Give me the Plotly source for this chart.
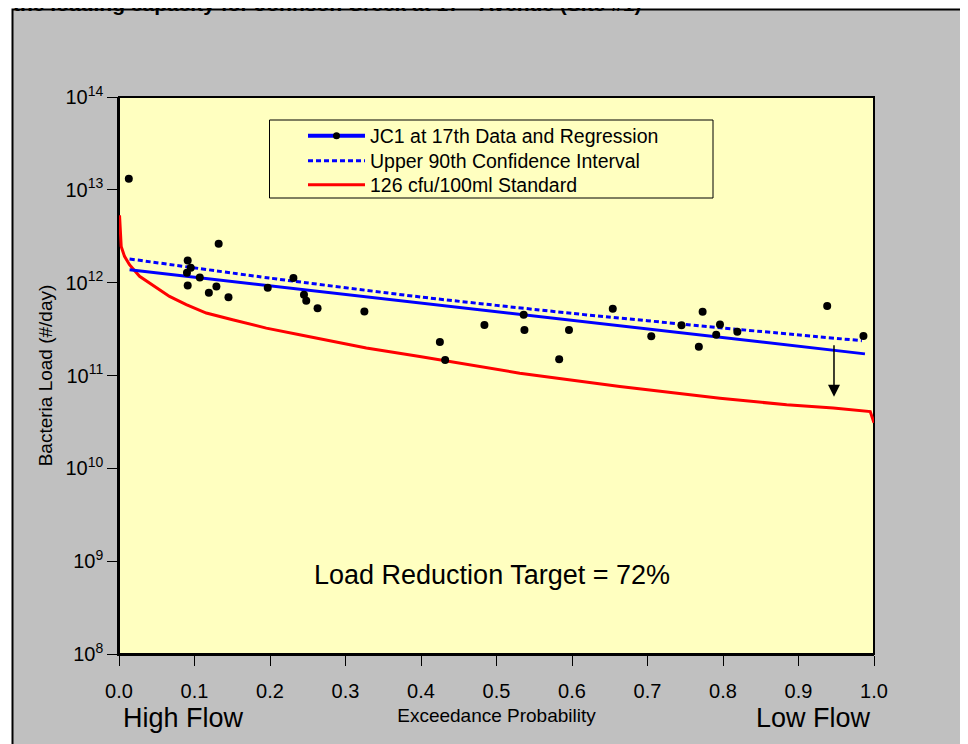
import math
import plotly.graph_objects as go

# ---------------- data ----------------
obs_x = [0.013, 0.091, 0.095, 0.090, 0.091, 0.107, 0.119, 0.129, 0.132, 0.145,
         0.197, 0.231, 0.245, 0.248, 0.263, 0.325, 0.425, 0.432, 0.484, 0.536,
         0.537, 0.583, 0.596, 0.654, 0.705, 0.745, 0.768, 0.773, 0.791, 0.796,
         0.819, 0.938, 0.986]
obs_y = [1.32e13, 1.73e12, 1.45e12, 1.28e12, 9.3e11, 1.14e12, 7.8e11, 9.1e11, 2.63e12, 6.95e11,
         8.8e11, 1.12e12, 7.4e11, 6.4e11, 5.3e11, 4.9e11, 2.3e11, 1.47e11, 3.5e11, 4.5e11,
         3.1e11, 1.5e11, 3.1e11, 5.25e11, 2.64e11, 3.47e11, 2.04e11, 4.86e11, 2.75e11, 3.55e11,
         2.96e11, 5.6e11, 2.66e11]

reg_x = [0.014, 0.988]
reg_y = [1.38e12, 1.71e11]

ci_x = [0.014, 0.2, 0.4, 0.6, 0.8, 0.984]
ci_y = [1.80e12, 1.12e12, 7.0e11, 4.67e11, 3.25e11, 2.37e11]

std_x = [0.0007, 0.0029, 0.0073, 0.0139, 0.0272, 0.0444, 0.0669, 0.0891, 0.1156, 0.1504,
         0.1951, 0.2392, 0.2830, 0.3276, 0.3983, 0.5308, 0.6634, 0.7959, 0.8843, 0.9461,
         0.9950, 1.0]
std_y = [5.32e12, 2.46e12, 1.92e12, 1.56e12, 1.17e12, 9.5e11, 7.1e11, 5.8e11, 4.71e11, 3.99e11,
         3.24e11, 2.75e11, 2.33e11, 1.98e11, 1.60e11, 1.06e11, 7.6e10, 5.7e10, 4.83e10, 4.46e10,
         4.09e10, 3.1e10]

arrow_x = 0.947
arrow_from = 2.2e11
arrow_to = 5.9e10

y_tickvals = [1e8, 1e9, 1e10, 1e11, 1e12, 1e13, 1e14]
y_ticktext = ["10<sup>8</sup>", "10<sup>9</sup>", "10<sup>10</sup>", "10<sup>11</sup>",
              "10<sup>12</sup>", "10<sup>13</sup>", "10<sup>14</sup>"]
x_tickvals = [0.0, 0.1, 0.2, 0.3, 0.4, 0.5, 0.6, 0.7, 0.8, 0.9, 1.0]
x_ticktext = ["0.0", "0.1", "0.2", "0.3", "0.4", "0.5", "0.6", "0.7", "0.8", "0.9", "1.0"]

title_text = "the loading capacity for Johnson Creek at 17<sup>th</sup> Avenue (Site #1)"
target_text = "Load Reduction Target = 72%"

# ---------------- figure ----------------
FONT = "Arial, 'Liberation Sans', sans-serif"
W, H = 968, 744
OFF = 8  # page body margin
ML, MT = 111, 89
MR = W - (874 - OFF)
MB = H - (654 - OFF)
PW, PH = W - ML - MR, H - MT - MB


def px(xp):
    """reference-picture x pixel -> paper coordinate"""
    return (xp - OFF - ML) / PW


def py(yp):
    """reference-picture y pixel -> paper coordinate"""
    return (H - MB - (yp - OFF)) / PH


fig = go.Figure()

fig.add_trace(go.Scatter(x=std_x, y=std_y, mode="lines", name="126 cfu/100ml Standard",
                         line=dict(color="#FF0000", width=3), legend="legend3"))
fig.add_trace(go.Scatter(x=reg_x, y=reg_y, mode="lines", showlegend=False,
                         line=dict(color="#0000FF", width=3)))
fig.add_trace(go.Scatter(x=ci_x, y=ci_y, mode="lines", name="Upper 90th Confidence Interval",
                         line=dict(color="#0000FF", width=3, dash="5px,3px", shape="spline", smoothing=0.6),
                         legend="legend2"))
fig.add_trace(go.Scatter(x=obs_x, y=obs_y, mode="markers", showlegend=False,
                         marker=dict(color="black", size=8)))
fig.add_trace(go.Scatter(x=[None], y=[None], mode="lines+markers",
                         name="JC1 at 17th Data and Regression",
                         line=dict(color="#0000FF", width=4),
                         marker=dict(color="black", size=7), legend="legend"))

shapes = [
    # grey outer frame
    dict(type="rect", xref="paper", yref="paper", x0=px(12.5), x1=px(1010), y0=py(800), y1=py(9.5),
         fillcolor="#C0C0C0", line=dict(color="black", width=2), layer="below"),
    # yellow plot area
    dict(type="rect", xref="paper", yref="paper", x0=0, x1=1, y0=0, y1=1,
         fillcolor="#FFFFC0", line=dict(color="black", width=2), layer="below"),
    # legend box
    dict(type="rect", xref="paper", yref="paper", x0=px(269.5), x1=px(713), y0=py(198), y1=py(120),
         fillcolor="rgba(0,0,0,0)", line=dict(color="black", width=1), layer="below"),
]

annotations = [
    dict(text="<b>" + title_text + "</b>", xref="paper", yref="paper", x=px(11), y=py(17),
         xanchor="left", yanchor="bottom", showarrow=False,
         font=dict(family=FONT, size=21, color="black")),
    dict(text=target_text, xref="paper", yref="paper", x=px(492), y=py(575),
         xanchor="center", yanchor="middle", showarrow=False,
         font=dict(family=FONT, size=27, color="black")),
    dict(text="High Flow", xref="paper", yref="paper", x=px(183), y=py(718),
         xanchor="center", yanchor="middle", showarrow=False,
         font=dict(family=FONT, size=27, color="black")),
    dict(text="Low Flow", xref="paper", yref="paper", x=px(813), y=py(718),
         xanchor="center", yanchor="middle", showarrow=False,
         font=dict(family=FONT, size=27, color="black")),
    dict(text="", x=arrow_x, y=math.log10(arrow_to), ax=arrow_x, ay=math.log10(arrow_from),
         xref="x", yref="y", axref="x", ayref="y", showarrow=True,
         arrowhead=2, arrowsize=1.6, arrowwidth=1.5, arrowcolor="black", standoff=0, startstandoff=0),
]

legend_common = dict(xanchor="left", yanchor="middle", bgcolor="rgba(0,0,0,0)", borderwidth=0,
                     font=dict(family=FONT, size=19.5, color="black"), itemwidth=57)

fig.update_layout(
    width=W, height=H,
    margin=dict(l=ML, r=MR, t=MT, b=MB),
    paper_bgcolor="white",
    plot_bgcolor="rgba(0,0,0,0)",
    font=dict(family=FONT, size=19, color="black"),
    shapes=shapes,
    annotations=annotations,
    showlegend=True,
    legend=dict(x=px(303), y=py(136), **legend_common),
    legend2=dict(x=px(303), y=py(161), **legend_common),
    legend3=dict(x=px(303), y=py(185), **legend_common),
    xaxis=dict(range=[0, 1], tickvals=x_tickvals, ticktext=x_ticktext,
               showgrid=False, zeroline=False, showline=True, linecolor="black", linewidth=1.5,
               ticks="outside", ticklen=10, tickwidth=1, tickcolor="black",
               tickfont=dict(family=FONT, size=20), ticklabelstandoff=8,
               title=dict(text="Exceedance Probability", font=dict(family=FONT, size=19), standoff=8),
               automargin=False, mirror=False),
    yaxis=dict(type="log", range=[8, 14], tickvals=y_tickvals, ticktext=y_ticktext,
               showgrid=False, zeroline=False, showline=True, linecolor="black", linewidth=1.5,
               ticks="outside", ticklen=10, tickwidth=1, tickcolor="black",
               tickfont=dict(family=FONT, size=20),
               title=dict(text="Bacteria Load (#/day)", font=dict(family=FONT, size=19), standoff=8),
               automargin=False),
)

fig.write_html("out.html")
